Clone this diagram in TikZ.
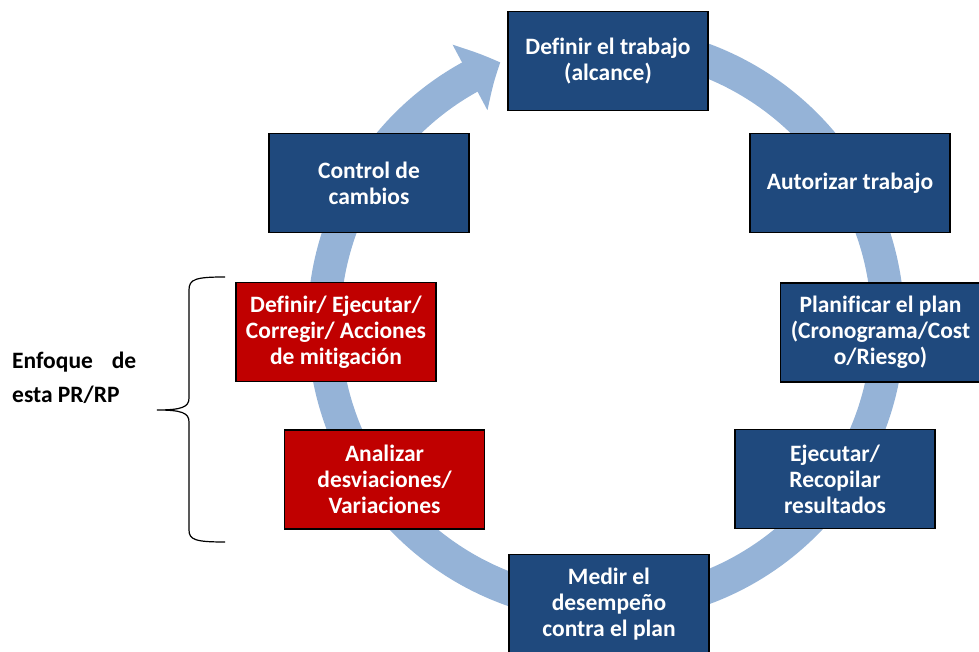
\documentclass[tikz,border=0pt]{standalone}
\usepackage{fontspec}
\setmainfont{Carlito}[Ligatures=CommonOff]
\usetikzlibrary{arrows.meta,bending}

\definecolor{pasoazul}{RGB}{31,73,125}
\definecolor{pasorojo}{RGB}{192,0,0}
\definecolor{anillo}{RGB}{149,179,215}

\begin{document}
\begin{tikzpicture}[x=1pt,y=1pt,
    paso/.style={draw=black,line width=1.8pt,fill=pasoazul,text=white,
      font=\fontsize{23.5}{26}\selectfont\bfseries,align=center,
      minimum width=200pt,minimum height=99pt,inner sep=1pt},
    foco/.style={paso,fill=pasorojo},
    ring/.style={draw=anillo,line width=33pt,
      -{Triangle[length=34pt,width=72pt,bend]}}]
    \useasboundingbox (0,0) rectangle (979,652);

    % ciclo
    \draw[ring] (606,328) ++(95:282) arc[start angle=95,end angle=-248,radius=282];

    \node[paso]  (b1) at (608,591)   {Definir el trabajo\\(alcance)};
    \node[paso]  (b2) at (850,469)   {Autorizar trabajo};
    \node[paso]  (b3) at (880.5,319.5) {Planificar el plan\\(Cronograma/Cost\\o/Riesgo)};
    \node[paso]  (b4) at (835,173)   {Ejecutar/\\Recopilar\\resultados};
    \node[paso]  (b5) at (609,48)    {Medir el\\desempeño\\contra el plan};
    \node[foco]  (b6) at (384.5,172.5) {Analizar\\desviaciones/\\Variaciones};
    \node[foco]  (b7) at (336,320)   {Definir/ Ejecutar/\\Corregir/ Acciones\\de mitigación};
    \node[paso]  (b8) at (369,469)   {Control de\\cambios};

    % llave
    \draw[line width=1.2pt] (225,375) .. controls (196,375) and (189,373) .. (189,362)
      -- (189,254) .. controls (189,245) and (182,242) .. (157,242)
      .. controls (182,242) and (189,239) .. (189,230)
      -- (189,122) .. controls (189,112) and (196,110) .. (225,110);
    \node[anchor=base west,inner sep=0pt,align=left,
      font=\fontsize{23.5}{34}\selectfont\bfseries] (enfoque) at (12,249)
      {\hbox to 124pt{Enfoque\hfill de}\\esta PR/RP};
\end{tikzpicture}
\end{document}
